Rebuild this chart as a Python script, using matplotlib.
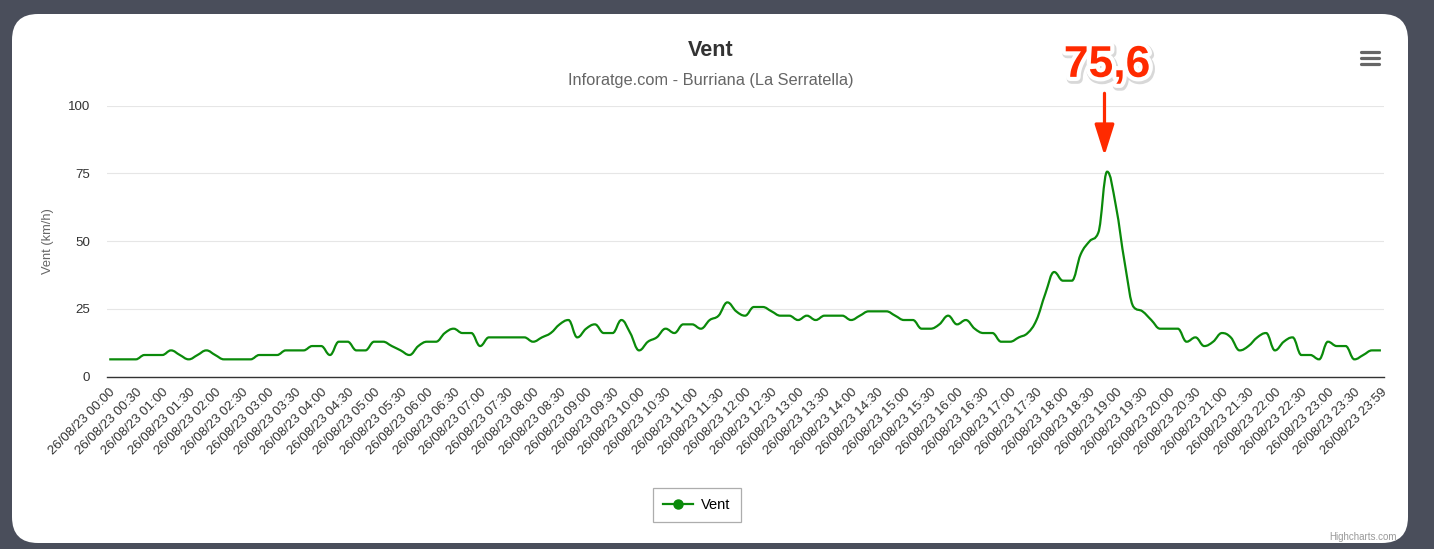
import numpy as np, matplotlib
matplotlib.use("Agg"); import matplotlib.pyplot as plt
from matplotlib.path import Path
from matplotlib.patches import PathPatch, FancyBboxPatch
from matplotlib.lines import Line2D
import matplotlib.patheffects as pe

# 10-minute wind readings, 26/08/23 (km/h)
times = [f"26/08/23 {h:02d}:{m:02d}" for h in range(24) for m in range(0, 60, 10)] + ["26/08/23 23:59"]
vent = [6.4, 6.4, 6.4, 6.4, 8.0, 8.0, 8.0, 9.7, 8.0, 6.4,
        8.0, 9.7, 8.0, 6.4, 6.4, 6.4, 6.4, 8.0, 8.0, 8.0,
        9.7, 9.7, 9.7, 11.3, 11.3, 8.0, 12.9, 12.9, 9.7, 9.7,
        12.9, 12.9, 11.3, 9.7, 8.0, 11.3, 12.9, 12.9, 16.1, 17.7,
        16.1, 16.1, 11.3, 14.5, 14.5, 14.5, 14.5, 14.5, 12.9, 14.5,
        16.1, 19.3, 20.9, 14.5, 17.7, 19.3, 16.1, 16.1, 20.9, 16.1,
        9.7, 12.9, 14.5, 17.7, 16.1, 19.3, 19.3, 17.7, 20.9, 22.5,
        27.4, 24.1, 22.5, 25.7, 25.7, 24.1, 22.5, 22.5, 20.9, 22.5,
        20.9, 22.5, 22.5, 22.5, 20.9, 22.5, 24.1, 24.1, 24.1, 22.5,
        20.9, 20.9, 17.7, 17.7, 19.3, 22.5, 19.3, 20.9, 17.7, 16.1,
        16.1, 12.9, 12.9, 14.5, 16.1, 20.9, 30.6, 38.6, 35.4, 35.4,
        45.1, 49.9, 53.1, 75.6, 62.8, 41.8, 25.7, 24.1, 20.9, 17.7,
        17.7, 17.7, 12.9, 14.5, 11.3, 12.9, 16.1, 14.5, 9.7, 11.3,
        14.5, 16.1, 9.7, 12.9, 14.5, 8.0, 8.0, 6.4, 12.9, 11.3,
        11.3, 6.4, 8.0, 9.7, 9.7]
label_step = 3
yticks = [0, 25, 50, 75, 100]
peak_label = "75,6"

W, H = 1434, 549
GREEN = "#0a8a0a"; RED = "#ff2a00"; DARK = "#4a4e5b"

def spline_path(x, y, smoothing=1.5):
    # highcharts style cubic spline
    n = len(x); d = smoothing + 1
    lc = [(x[i], y[i]) for i in range(n)]; rc = [(x[i], y[i]) for i in range(n)]
    for i in range(1, n - 1):
        px, py = x[i], y[i]; lx, ly = x[i-1], y[i-1]; nx, ny = x[i+1], y[i+1]
        lcx = (smoothing*px + lx)/d; lcy = (smoothing*py + ly)/d
        rcx = (smoothing*px + nx)/d; rcy = (smoothing*py + ny)/d
        corr = (rcy - lcy)*(rcx - px)/(rcx - lcx) + py - rcy
        lcy += corr; rcy += corr
        if lcy > ly and lcy > py: lcy = max(ly, py); rcy = 2*py - lcy
        elif lcy < ly and lcy < py: lcy = min(ly, py); rcy = 2*py - lcy
        if rcy > ny and rcy > py: rcy = max(ny, py); lcy = 2*py - rcy
        elif rcy < ny and rcy < py: rcy = min(ny, py); lcy = 2*py - rcy
        lc[i] = (lcx, lcy); rc[i] = (rcx, rcy)
    verts = [(x[0], y[0])]; codes = [Path.MOVETO]
    for i in range(1, n):
        verts += [rc[i-1], lc[i], (x[i], y[i])]; codes += [Path.CURVE4]*3
    return Path(verts, codes)

plt.rcParams['font.family'] = ['Liberation Sans', 'DejaVu Sans']
fig = plt.figure(figsize=(W/100, H/100), dpi=100, facecolor=DARK)
card = FancyBboxPatch((12, 6), 1396, 529, boxstyle="round,pad=0,rounding_size=26",
                      transform=None, facecolor="white", edgecolor="none", zorder=-5)
fig.patches.append(card)

ax = fig.add_axes([107/W, (H-376.7)/H, 1277/W, 271.2/H])
ax.set_facecolor("none"); ax.set_zorder(2)
xs = np.arange(len(vent))
ax.add_patch(PathPatch(spline_path(xs, vent), fill=False, edgecolor=GREEN, lw=1.6, zorder=3))
ax.set_xlim(-0.25, len(vent) - 1 + 0.35); ax.set_ylim(0, 100)
ax.set_yticks(yticks)
ax.set_xticks(xs[::label_step]); ax.set_xticklabels(times[::label_step])
ax.tick_params(axis='x', length=0, pad=7, labelsize=9.5, labelcolor="#333333")
ax.tick_params(axis='y', length=0, pad=12, labelsize=9.6, labelcolor="#333333")
for t in ax.get_xticklabels():
    t.set_rotation(45); t.set_ha('right'); t.set_va('top'); t.set_rotation_mode('anchor')
ax.grid(axis='y', color="#e6e6e6", lw=0.8); ax.set_axisbelow(True)
for s in ['top', 'right', 'left']: ax.spines[s].set_visible(False)
ax.spines['bottom'].set_color("#333333"); ax.spines['bottom'].set_linewidth(1.0)

fig.text(711/W, 1-50/H, "Vent", ha='center', va='center', fontsize=15.5, fontweight='bold', color="#333333")
fig.text(711/W, 1-81/H, "Inforatge.com - Burriana (La Serratella)", ha='center', va='center', fontsize=11.8, color="#666666")
fig.text(48/W, 1-241/H, "Vent (km/h)", rotation=90, ha='center', va='center', fontsize=9.3, color="#666666")

# peak callout
ipk = int(np.argmax(vent))
ax.annotate("", xy=(ipk - 0.3, 81.5), xytext=(ipk - 0.3, 104.5), annotation_clip=False,
            arrowprops=dict(arrowstyle="-|>,head_length=0.95,head_width=0.3", color=RED, lw=2.3,
                            mutation_scale=20, shrinkA=0, shrinkB=0))
txt = ax.text(ipk, 114.8, peak_label, ha='center', va='center', fontsize=32, fontweight='bold', color=RED, clip_on=False)
txt.set_path_effects([pe.Stroke(linewidth=7, foreground="#d8d8d8", offset=(1, -1.5)),
                      pe.Stroke(linewidth=6, foreground="white"), pe.Normal()])

# menu icon
for yy in (52, 58, 64):
    fig.add_artist(Line2D([1361/W, 1379/W], [1-yy/H, 1-yy/H], color="#666666", lw=2.3, solid_capstyle='round'))

h = Line2D([], [], color=GREEN, lw=1.6, marker='o', ms=6.5)
leg = fig.legend([h], ["Vent"], loc='center', bbox_to_anchor=(697/W, 1-505/H), frameon=True, fancybox=False,
                 fontsize=10.5, handlelength=2.0, borderpad=0.7, handletextpad=0.6, borderaxespad=0)
leg.get_frame().set_edgecolor("#999999"); leg.get_frame().set_linewidth(0.9)
fig.text(1397/W, 1-537/H, "Highcharts.com", ha='right', va='center', fontsize=7, color="#999999")

plt.savefig("out.png", dpi=100, facecolor=fig.get_facecolor())
print("saved out.png")
